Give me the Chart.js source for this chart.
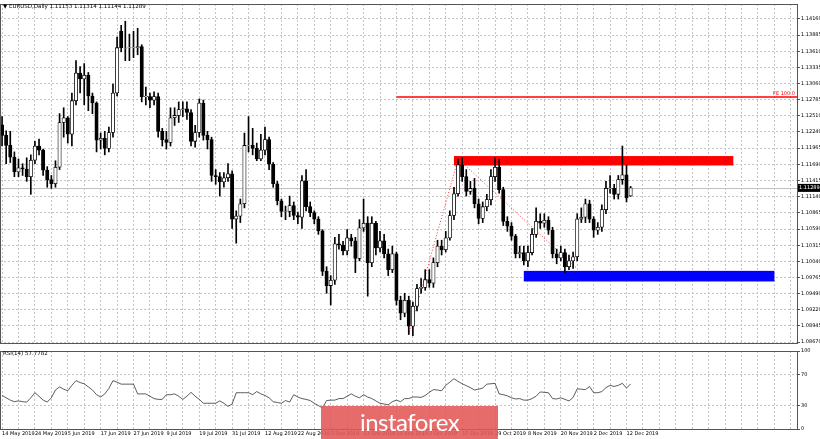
<!DOCTYPE html>
<html><head><meta charset="utf-8">
<script src="https://cdn.jsdelivr.net/npm/chart.js@4.4.0/dist/chart.umd.min.js"></script>
<style>
html,body{margin:0;padding:0;background:#fff;width:820px;height:439px;overflow:hidden;font-family:"DejaVu Sans",sans-serif}
#w1{position:absolute;left:0;top:0;width:820px;height:347px}
#w2{position:absolute;left:0;top:347px;width:820px;height:92px}
.t{position:absolute;font-size:5.5px;color:#000;white-space:nowrap}
#wm{position:absolute;left:321px;top:406px;width:177px;height:33px;background:rgba(226,86,86,0.88);color:#fff;font-family:Lato,"Open Sans",sans-serif;font-size:24px;line-height:31px;text-align:center;letter-spacing:-0.5px}
</style></head><body>
<div id="w1"><canvas id="c1"></canvas></div>
<div id="w2"><canvas id="c2"></canvas></div>
<div class="t" style="left:3px;top:3px">▼ EURUSD,Daily 1.11153 1.11314 1.11144 1.11289</div>
<div class="t" style="left:3px;top:350px">RSI(14) 57.7782</div>
<div id="wm">instaforex</div>
<script>
const closes=[1.1218,1.1201,1.1181,1.1156,1.1163,1.1161,1.1148,1.1176,1.1200,1.1193,1.1159,1.1143,1.1136,1.1164,1.1240,1.1248,1.1220,1.1277,1.1324,1.1314,1.1320,1.1285,1.1273,1.1210,1.1213,1.1196,1.1223,1.1290,1.1367,1.1367,1.1366,1.1367,1.1367,1.1369,1.1284,1.1284,1.1278,1.1284,1.1225,1.1211,1.1206,1.1248,1.1252,1.1262,1.1263,1.1257,1.1208,1.1223,1.1273,1.1218,1.1211,1.1150,1.1148,1.1139,1.1146,1.1153,1.1076,1.1081,1.1102,1.1201,1.1201,1.1196,1.1178,1.1193,1.1211,1.1169,1.1136,1.1107,1.1089,1.1089,1.1099,1.1082,1.1079,1.1141,1.1097,1.1087,1.1076,1.1056,1.0987,1.0963,1.0972,1.1034,1.1032,1.1022,1.1044,1.1039,1.1009,1.1061,1.1069,1.1002,1.1069,1.1027,1.1039,1.1017,1.0990,1.1017,1.0938,1.0916,1.0938,1.0894,1.0928,1.0958,1.0960,1.0973,1.0967,1.1002,1.1030,1.1024,1.1044,1.1082,1.1119,1.1168,1.1148,1.1123,1.1128,1.1102,1.1077,1.1097,1.1109,1.1148,1.1164,1.1126,1.1072,1.1064,1.1047,1.1017,1.1019,1.1005,1.1019,1.1050,1.1072,1.1069,1.1074,1.1057,1.1017,1.1010,1.1019,1.0995,1.1005,1.1012,1.1076,1.1079,1.1102,1.1076,1.1057,1.1062,1.1092,1.1128,1.1128,1.1118,1.1143,1.1151,1.1112,1.11289];
const opens=[1.1236,1.1218,1.1201,1.1181,1.1156,1.1163,1.1161,1.1148,1.1176,1.1200,1.1193,1.1159,1.1143,1.1136,1.1164,1.1240,1.1248,1.1220,1.1277,1.1324,1.1314,1.1320,1.1285,1.1273,1.1210,1.1213,1.1196,1.1223,1.1290,1.1395,1.1366,1.1367,1.1367,1.1367,1.1369,1.1284,1.1284,1.1278,1.1284,1.1225,1.1211,1.1206,1.1248,1.1252,1.1262,1.1263,1.1257,1.1208,1.1223,1.1273,1.1218,1.1211,1.1150,1.1148,1.1139,1.1146,1.1153,1.1076,1.1081,1.1102,1.1201,1.1201,1.1196,1.1178,1.1193,1.1211,1.1169,1.1136,1.1107,1.1089,1.1089,1.1099,1.1082,1.1079,1.1141,1.1097,1.1087,1.1076,1.1056,1.0987,1.0963,1.0972,1.1034,1.1032,1.1022,1.1044,1.1039,1.1009,1.1061,1.1069,1.1002,1.1069,1.1027,1.1039,1.1017,1.0990,1.1017,1.0938,1.0916,1.0938,1.0894,1.0928,1.0958,1.0960,1.0973,1.0967,1.1002,1.1030,1.1024,1.1044,1.1082,1.1119,1.1168,1.1148,1.1123,1.1128,1.1102,1.1077,1.1097,1.1109,1.1148,1.1164,1.1126,1.1072,1.1064,1.1047,1.1017,1.1019,1.1005,1.1019,1.1050,1.1072,1.1069,1.1074,1.1057,1.1017,1.1010,1.1019,1.0995,1.1005,1.1012,1.1076,1.1079,1.1102,1.1076,1.1057,1.1062,1.1092,1.1128,1.1128,1.1118,1.1143,1.1151,1.11153];
const highs=[1.1250,1.1226,1.1225,1.1190,1.1178,1.1170,1.1180,1.1185,1.1208,1.1212,1.1195,1.1165,1.1150,1.1175,1.1255,1.1265,1.1250,1.1290,1.1345,1.1335,1.1340,1.1325,1.1290,1.1275,1.1222,1.1225,1.1232,1.1305,1.1385,1.1405,1.1412,1.1390,1.1395,1.1400,1.1372,1.1300,1.1290,1.1292,1.1290,1.1230,1.1225,1.1265,1.1265,1.1275,1.1275,1.1275,1.1262,1.1235,1.1280,1.1278,1.1225,1.1215,1.1160,1.1155,1.1155,1.1170,1.1158,1.1090,1.1110,1.1222,1.1250,1.1230,1.1205,1.1220,1.1232,1.1215,1.1172,1.1140,1.1110,1.1098,1.1115,1.1105,1.1088,1.1150,1.1160,1.1105,1.1090,1.1080,1.1058,1.0995,1.0980,1.1045,1.1050,1.1038,1.1058,1.1050,1.1045,1.1075,1.1110,1.1080,1.1080,1.1072,1.1055,1.1050,1.1025,1.1030,1.1020,1.0945,1.0950,1.0945,1.0935,1.0965,1.0975,1.0990,1.0990,1.1010,1.1040,1.1040,1.1055,1.1090,1.1130,1.1178,1.1180,1.1160,1.1140,1.1145,1.1110,1.1105,1.1118,1.1160,1.1180,1.1178,1.1130,1.1080,1.1070,1.1050,1.1030,1.1030,1.1030,1.1060,1.1095,1.1085,1.1085,1.1080,1.1062,1.1025,1.1030,1.1025,1.1015,1.1020,1.1085,1.1095,1.1110,1.1108,1.1080,1.1070,1.1100,1.1140,1.1150,1.1135,1.1150,1.1200,1.1168,1.11314];
const lows=[1.1200,1.1170,1.1172,1.1148,1.1148,1.1150,1.1140,1.1118,1.1170,1.1185,1.1150,1.1130,1.1128,1.1130,1.1160,1.1215,1.1205,1.1200,1.1270,1.1290,1.1270,1.1260,1.1255,1.1190,1.1195,1.1185,1.1190,1.1215,1.1285,1.1360,1.1345,1.1345,1.1350,1.1355,1.1275,1.1270,1.1265,1.1270,1.1215,1.1200,1.1195,1.1200,1.1235,1.1240,1.1250,1.1245,1.1200,1.1198,1.1215,1.1210,1.1195,1.1140,1.1135,1.1115,1.1130,1.1140,1.1060,1.1035,1.1070,1.1095,1.1190,1.1185,1.1175,1.1175,1.1185,1.1160,1.1130,1.1100,1.1080,1.1075,1.1080,1.1075,1.1068,1.1060,1.1090,1.1080,1.1068,1.1050,1.0980,1.0950,1.0930,1.0965,1.1025,1.1015,1.1015,1.1030,1.0985,1.1005,1.1055,1.0945,1.0995,1.1015,1.1020,1.1010,1.0980,1.0985,1.0930,1.0905,1.0910,1.0880,1.0878,1.0920,1.0950,1.0955,1.0960,1.0960,1.0995,1.1015,1.1020,1.1040,1.1075,1.1115,1.1140,1.1115,1.1118,1.1095,1.1068,1.1070,1.1090,1.1100,1.1140,1.1120,1.1065,1.1055,1.1040,1.1010,1.1010,1.0998,1.0995,1.1015,1.1045,1.1060,1.1062,1.1050,1.1010,1.1000,1.1005,1.0985,1.0990,1.0992,1.1005,1.1070,1.1070,1.1070,1.1045,1.1050,1.1055,1.1085,1.1120,1.1110,1.1110,1.1135,1.1105,1.11144];
const rsi=[43,40,37,35,36,35,34.5,40,46.5,42,37,34.5,40,50,54,51,49,56,62,59.5,58,54,50,44,41,45,52,62,60,57.5,57.5,57.5,57.5,45,45,45,42,39,38,38,44,44,45,42,38,42,47,42,38,33,33,33,33,36,33,29,32,46.5,46.5,46.5,46.5,44,48,45,43,40,35,34,33,36.5,34.5,44,41,39,38,36.5,33,30,27,36.5,37,37,39,39,42,45,42,40,44,41,39,36,33,32,31,35,37,35,39,39,41,41,40.5,43,47,50.5,50,49,56,60,64.5,61,58,55.5,53,50,51,52.5,57.5,58,58.5,45,44,42.5,40,38.5,39,37,37,39,42,47.5,47,46.5,39,38.5,40,38,36,40.5,51.5,51,50.5,54.5,46.5,46.5,48,53,56,54.5,56,58.5,52.5,57.8];
const dateLabels=["14 May 2019","24 May 2019","5 Jun 2019","17 Jun 2019","27 Jun 2019","9 Jul 2019","19 Jul 2019","31 Jul 2019","12 Aug 2019","22 Aug 2019","3 Sep 2019","13 Sep 2019","25 Sep 2019","7 Oct 2019","17 Oct 2019","29 Oct 2019","8 Nov 2019","20 Nov 2019","2 Dec 2019","12 Dec 2019"];
const priceTicks=[1.14160,1.13885,1.13610,1.13335,1.13060,1.12785,1.12510,1.12240,1.11965,1.11690,1.11415,1.11140,1.10865,1.10590,1.10315,1.10040,1.09765,1.09490,1.09220,1.08945,1.08670];
const lastPrice=1.11289;
const feLevel=1.1284, feStart=96;
const resZone=[1.1167,1.1183], resStart=110, resEnd=178;
const supZone=[1.0970,1.0988], supStart=127, supEnd=188;
const fibA=[[99,1.0880],[111,1.1178]], fibB=[[111,1.1178],[140,1.0992]];
const totalSlots=194;

const N=closes.length;
const labels=[];for(let i=0;i<totalSlots;i++)labels.push(i);
const wick=[],body=[],bodyCol=[];
for(let i=0;i<N;i++){wick.push([lows[i],highs[i]]);let o=opens[i],c=closes[i];if(Math.abs(o-c)<0.00003)c=o+0.00004;body.push([o,c]);bodyCol.push(closes[i]>=opens[i]?'#ffffff':'#000000');}
const grid='#c4c4c4';
function fixW(s){s.width=23;}
const tickFont={size:5,family:'DejaVu Sans'};
const xCfg={type:'category',offset:true,grid:{offset:false,color:c=>c.index%4===0?grid:'transparent',drawTicks:false},border:{display:false,dash:[2,2]},ticks:{display:false,autoSkip:false}};
const overlay={id:'ov',beforeDatasetsDraw(ch){const{ctx,scales:{x,y},chartArea:a}=ch;ctx.save();
 ctx.fillStyle='#ff0000';let x1=x.getPixelForValue(resStart),x2=x.getPixelForValue(resEnd);ctx.fillRect(x1,y.getPixelForValue(resZone[1]),x2-x1,y.getPixelForValue(resZone[0])-y.getPixelForValue(resZone[1]));
 ctx.fillStyle='#0000ff';x1=x.getPixelForValue(supStart);x2=x.getPixelForValue(supEnd);ctx.fillRect(x1,y.getPixelForValue(supZone[1]),x2-x1,y.getPixelForValue(supZone[0])-y.getPixelForValue(supZone[1]));
 ctx.strokeStyle='#c0c0c0';ctx.lineWidth=1;let yp=Math.round(y.getPixelForValue(lastPrice))+0.5;ctx.beginPath();ctx.moveTo(a.left,yp);ctx.lineTo(a.right,yp);ctx.stroke();
 ctx.strokeStyle='#ff0000';ctx.lineWidth=1.5;yp=Math.round(y.getPixelForValue(feLevel));ctx.beginPath();ctx.moveTo(x.getPixelForValue(feStart),yp);ctx.lineTo(a.right,yp);ctx.stroke();
 ctx.fillStyle='#ff0000';ctx.font='5px "DejaVu Sans"';ctx.textAlign='right';ctx.fillText('FE 100.0',a.right-2,yp-2);
 ctx.lineWidth=1;ctx.strokeStyle='#ff3030';ctx.setLineDash([1,2]);for(const seg of [fibA,fibB]){ctx.beginPath();ctx.moveTo(x.getPixelForValue(seg[0][0]),y.getPixelForValue(seg[0][1]));ctx.lineTo(x.getPixelForValue(seg[1][0]),y.getPixelForValue(seg[1][1]));ctx.stroke();}
 ctx.restore();},
 afterDraw(ch){const{ctx,scales:{y},chartArea:a}=ch;ctx.save();ctx.strokeStyle='#555';ctx.lineWidth=1;ctx.strokeRect(a.left+0.5,a.top+0.5,a.right-a.left,a.bottom-a.top);
 const yp=y.getPixelForValue(lastPrice);ctx.fillStyle='#000';ctx.fillRect(a.right+1,yp-4,22,8);ctx.fillStyle='#fff';ctx.font='5px "DejaVu Sans"';ctx.textAlign='left';ctx.textBaseline='middle';ctx.fillText(lastPrice.toFixed(5),a.right+2,yp);ctx.restore();}};
new Chart(document.getElementById('c1'),{type:'bar',data:{labels,datasets:[
 {data:wick,backgroundColor:'#000',barThickness:1,grouped:false,order:2},
 {data:body,backgroundColor:bodyCol,borderColor:'#000',borderWidth:0.8,borderSkipped:false,barThickness:3.4,grouped:false,order:1}]},
 options:{animation:false,responsive:true,maintainAspectRatio:false,layout:{padding:{left:0,right:0,top:0,bottom:1}},plugins:{legend:{display:false},tooltip:{enabled:false}},
 scales:{x:xCfg,y:{position:'right',min:1.08655,max:1.14412,afterFit:fixW,afterBuildTicks:s=>{s.ticks=priceTicks.map(v=>({value:v}));},grid:{color:grid,tickLength:3,tickColor:'#555',drawTicks:true},border:{display:false,dash:[2,2]},ticks:{font:tickFont,color:'#000',padding:1,callback:v=>Number(v).toFixed(5)}}}},plugins:[overlay]});

const frame={id:'fr',afterDraw(ch){const{ctx,chartArea:a}=ch;ctx.save();ctx.strokeStyle='#555';ctx.lineWidth=1;ctx.strokeRect(a.left+0.5,a.top+0.5,a.right-a.left,a.bottom-a.top);ctx.restore();}};
new Chart(document.getElementById('c2'),{type:'line',data:{labels,datasets:[{data:rsi,borderColor:'#333',borderWidth:0.8,pointRadius:0,tension:0}]},
 options:{animation:false,responsive:true,maintainAspectRatio:false,layout:{padding:{left:0,right:0,top:2,bottom:0}},plugins:{legend:{display:false},tooltip:{enabled:false}},
 scales:{x:{type:'category',offset:true,grid:{offset:false,color:c=>c.index%4===0?grid:'transparent',drawTicks:false},border:{display:false,dash:[2,2]},ticks:{autoSkip:false,maxRotation:0,align:'start',padding:2,font:tickFont,color:'#000',callback:(v,i)=>(i%8===0&&dateLabels[i/8])?dateLabels[i/8]:''}},
 y:{position:'right',min:0,max:100,afterFit:fixW,afterBuildTicks:s=>{s.ticks=[0,30,70,100].map(v=>({value:v}));},grid:{color:c=>(c.tick&&(c.tick.value===30||c.tick.value===70))?grid:'transparent',tickLength:3,tickColor:'#555'},border:{display:false,dash:[2,2]},ticks:{font:tickFont,color:'#000',padding:1}}}},plugins:[frame]});
</script></body></html>
